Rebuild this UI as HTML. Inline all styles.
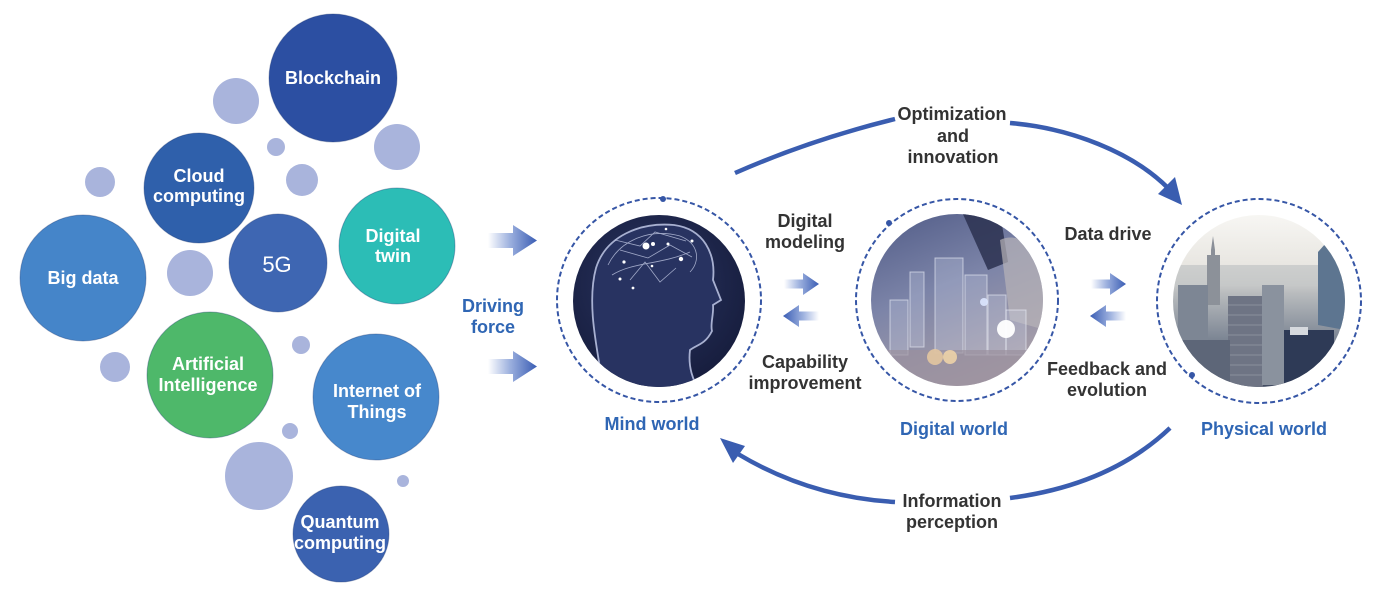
<!DOCTYPE html>
<html><head><meta charset="utf-8"><style>
html,body{margin:0;padding:0;background:#fff;}
svg{display:block;}
text{font-family:"Liberation Sans",Arial,sans-serif;}
</style></head><body>
<svg width="1386" height="598" viewBox="0 0 1386 598" xmlns="http://www.w3.org/2000/svg">
<defs>
  <linearGradient id="gR" x1="0" y1="0" x2="1" y2="0">
    <stop offset="0" stop-color="#ffffff"/>
    <stop offset="0.45" stop-color="#9cb0de"/>
    <stop offset="1" stop-color="#3a5db4"/>
  </linearGradient>
  <linearGradient id="gL" x1="1" y1="0" x2="0" y2="0">
    <stop offset="0" stop-color="#ffffff"/>
    <stop offset="0.45" stop-color="#9cb0de"/>
    <stop offset="1" stop-color="#3a5db4"/>
  </linearGradient>
  <radialGradient id="mindG" cx="0.45" cy="0.4" r="0.65">
    <stop offset="0" stop-color="#2a3562"/>
    <stop offset="1" stop-color="#151b3a"/>
  </radialGradient>
  <linearGradient id="digG" x1="0" y1="0" x2="0.4" y2="1">
    <stop offset="0" stop-color="#4f5a86"/>
    <stop offset="0.5" stop-color="#7c84a8"/>
    <stop offset="1" stop-color="#a79ea8"/>
  </linearGradient>
  <linearGradient id="phyG" x1="0" y1="0" x2="0" y2="1">
    <stop offset="0" stop-color="#f8f7f4"/>
    <stop offset="0.3" stop-color="#e8e6e1"/>
    <stop offset="0.45" stop-color="#b9bcbe"/>
    <stop offset="0.7" stop-color="#7e8795"/>
    <stop offset="1" stop-color="#3b455c"/>
  </linearGradient>
  <clipPath id="cMind"><circle cx="659" cy="301" r="86"/></clipPath>
  <clipPath id="cDig"><circle cx="957" cy="300" r="86"/></clipPath>
  <clipPath id="cPhy"><circle cx="1259" cy="301" r="86"/></clipPath>
</defs>

<!-- LEFT BUBBLES: light small circles -->
<g fill="#a9b4dc">
  <circle cx="236" cy="101" r="23"/>
  <circle cx="276" cy="147" r="9"/>
  <circle cx="397" cy="147" r="23"/>
  <circle cx="100" cy="182" r="15"/>
  <circle cx="302" cy="180" r="16"/>
  <circle cx="190" cy="273" r="23"/>
  <circle cx="115" cy="367" r="15"/>
  <circle cx="301" cy="345" r="9"/>
  <circle cx="290" cy="431" r="8"/>
  <circle cx="259" cy="476" r="34"/>
  <circle cx="403" cy="481" r="6"/>
</g>
<!-- main bubbles -->
<g stroke-width="1" stroke-opacity="0.35" stroke="#1e3670">
<circle cx="333" cy="78" r="64" fill="#2c4fa2"/>
<circle cx="199" cy="188" r="55" fill="#2f60ab"/>
<circle cx="397" cy="246" r="58" fill="#2cbdb6"/>
<circle cx="278" cy="263" r="49" fill="#3e66b2"/>
<circle cx="83" cy="278" r="63" fill="#4585c9"/>
<circle cx="210" cy="375" r="63" fill="#4eb86a"/>
<circle cx="376" cy="397" r="63" fill="#4788cc"/>
<circle cx="341" cy="534" r="48" fill="#3b62b0"/>
</g>

<g fill="#ffffff" font-weight="bold" font-size="18" text-anchor="middle">
  <text x="333" y="84">Blockchain</text>
  <text x="199" y="182">Cloud</text>
  <text x="199" y="202">computing</text>
  <text x="393" y="242">Digital</text>
  <text x="393" y="262">twin</text>
  <text x="83" y="284">Big data</text>
  <text x="208" y="370">Artificial</text>
  <text x="208" y="391">Intelligence</text>
  <text x="377" y="397">Internet of</text>
  <text x="377" y="418">Things</text>
  <text x="340" y="528">Quantum</text>
  <text x="340" y="549">computing</text>
</g>
<text x="277" y="272" fill="#ffffff" font-size="22" text-anchor="middle">5G</text>

<!-- Driving arrows -->
<polygon points="488,233 513,233 513,225 537,240.5 513,256 513,248 488,248" fill="url(#gR)"/>
<polygon points="488,359 513,359 513,351 537,366.5 513,382 513,374 488,374" fill="url(#gR)"/>
<g fill="#2f66b4" font-weight="bold" font-size="18" text-anchor="middle">
  <text x="493" y="312">Driving</text>
  <text x="493" y="333">force</text>
</g>

<!-- MIND WORLD image -->
<g clip-path="url(#cMind)">
  <rect x="570" y="212" width="180" height="180" fill="url(#mindG)"/>
  <path d="M604,392 C598,352 586,305 596,268 C606,236 640,222 674,225 C704,229 716,254 713,280 L721,300 L713,305 C714,314 710,324 712,331 C705,345 696,345 690,350 C688,366 692,380 702,395 Z" fill="#283361" stroke="#c0c8e6" stroke-width="1.8" stroke-opacity="0.85"/>
  <g stroke="#c9d0ea" stroke-width="0.8" fill="none" opacity="0.75">
    <path d="M608,265 C620,240 650,228 680,236 C700,244 700,262 690,272"/>
    <path d="M612,275 C632,262 660,265 690,252"/>
    <path d="M620,250 L648,258 L670,245 L692,257"/>
    <path d="M630,280 L645,262 L660,282 L676,268"/>
    <path d="M615,240 L640,246 L655,232 L686,241"/>
  </g>
  <g fill="#ffffff">
    <circle cx="646" cy="246" r="3.5"/>
    <circle cx="653" cy="244" r="2"/>
    <circle cx="624" cy="262" r="1.6"/>
    <circle cx="681" cy="259" r="2.2"/>
    <circle cx="692" cy="241" r="1.5"/>
    <circle cx="668" cy="244" r="1.5"/>
    <circle cx="620" cy="279" r="1.5"/>
    <circle cx="633" cy="288" r="1.4"/>
    <circle cx="652" cy="266" r="1.3"/>
    <circle cx="666" cy="229" r="1.3"/>
  </g>
</g>
<circle cx="659" cy="300" r="102" fill="none" stroke="#3656a6" stroke-width="2" stroke-dasharray="5 3"/>
<circle cx="663" cy="199" r="3" fill="#3656a6"/>

<!-- DIGITAL WORLD image -->
<g clip-path="url(#cDig)">
  <rect x="868" y="211" width="180" height="180" fill="url(#digG)"/>
  <polygon points="962,212 1000,212 1008,262 988,270" fill="#2c3150" opacity="0.85"/>
  <path d="M1000,240 C1020,230 1045,250 1045,290 L1045,330 L1010,320 Z" fill="#b8b4b8" opacity="0.7"/>
  <g fill="#d4daee" fill-opacity="0.25" stroke="#eef1fa" stroke-opacity="0.6" stroke-width="1">
    <rect x="910" y="272" width="14" height="75"/>
    <rect x="935" y="258" width="28" height="95"/>
    <rect x="965" y="275" width="22" height="80"/>
    <rect x="890" y="300" width="18" height="55"/>
    <rect x="988" y="295" width="18" height="60"/>
    <rect x="1006" y="310" width="20" height="45"/>
  </g>
  <rect x="868" y="350" width="180" height="40" fill="#9a909e" opacity="0.7"/>
  <circle cx="935" cy="357" r="8" fill="#e8c9a0" opacity="0.85"/>
  <circle cx="950" cy="357" r="7" fill="#f2d6a8" opacity="0.85"/>
  <circle cx="1006" cy="329" r="9" fill="#ffffff" opacity="0.95"/>
  <circle cx="984" cy="302" r="4" fill="#dde6ff" opacity="0.9"/>
</g>
<circle cx="957" cy="300" r="101" fill="none" stroke="#3656a6" stroke-width="2" stroke-dasharray="5 3"/>
<circle cx="889" cy="223" r="3" fill="#3656a6"/>

<!-- PHYSICAL WORLD image -->
<g clip-path="url(#cPhy)">
  <rect x="1170" y="212" width="180" height="180" fill="url(#phyG)"/>
  <rect x="1175" y="265" width="170" height="20" fill="#c6c8c8" opacity="0.8"/>
  <polygon points="1211,302 1211,250 1213,236 1215,250 1215,302" fill="#8a8f98"/>
  <rect x="1207" y="255" width="13" height="50" fill="#8c9199"/>
  <rect x="1178" y="285" width="30" height="60" fill="#7d8694"/>
  <rect x="1228" y="296" width="35" height="92" fill="#6e7484"/>
  <g stroke="#a4a9b4" stroke-width="0.8" opacity="0.7">
    <line x1="1228" y1="305" x2="1263" y2="305"/><line x1="1228" y1="315" x2="1263" y2="315"/>
    <line x1="1228" y1="325" x2="1263" y2="325"/><line x1="1228" y1="335" x2="1263" y2="335"/>
    <line x1="1228" y1="345" x2="1263" y2="345"/><line x1="1228" y1="355" x2="1263" y2="355"/>
    <line x1="1228" y1="365" x2="1263" y2="365"/><line x1="1228" y1="375" x2="1263" y2="375"/>
  </g>
  <rect x="1262" y="285" width="22" height="100" fill="#8a929e"/>
  <polygon points="1318,325 1318,252 1326,243 1345,262 1345,330" fill="#5d7590"/>
  <rect x="1284" y="330" width="50" height="60" fill="#2e3a56"/>
  <rect x="1290" y="327" width="18" height="8" fill="#d6d9de"/>
  <rect x="1175" y="340" width="55" height="50" fill="#5d6678"/>
</g>
<circle cx="1259" cy="301" r="102" fill="none" stroke="#3656a6" stroke-width="2" stroke-dasharray="5 3"/>
<circle cx="1192" cy="375" r="3" fill="#3656a6"/>

<!-- small arrows -->
<polygon points="784,279.5 803,279.5 803,273 819,284 803,295 803,288.5 784,288.5" fill="url(#gR)"/>
<polygon points="819,311.5 799,311.5 799,305 783,316 799,327 799,320.5 819,320.5" fill="url(#gL)"/>
<polygon points="1091,279.5 1110,279.5 1110,273 1126,284 1110,295 1110,288.5 1091,288.5" fill="url(#gR)"/>
<polygon points="1126,311.5 1106,311.5 1106,305 1090,316 1106,327 1106,320.5 1126,320.5" fill="url(#gL)"/>

<!-- big arcs -->
<g fill="none" stroke="#3a5db0" stroke-width="4.5" stroke-linecap="butt">
  <path d="M735,173 Q810,140 895,119"/>
  <path d="M1010,123 C1070,128 1132,152 1168,188"/>
  <path d="M1170,428 Q1110,485 1010,498"/>
  <path d="M895,502 Q810,497 738,454"/>
</g>
<polygon points="1182,205 1158,194 1175,177" fill="#3a5db0"/>
<polygon points="720,438 745,446 733,463" fill="#3a5db0"/>

<!-- dark labels -->
<g fill="#333333" font-weight="bold" font-size="18" text-anchor="middle">
  <text x="952" y="120">Optimization</text>
  <text x="953" y="142">and</text>
  <text x="953" y="163">innovation</text>
  <text x="805" y="227">Digital</text>
  <text x="805" y="248">modeling</text>
  <text x="805" y="368">Capability</text>
  <text x="805" y="389">improvement</text>
  <text x="1108" y="240">Data drive</text>
  <text x="1107" y="375">Feedback and</text>
  <text x="1107" y="396">evolution</text>
  <text x="952" y="507">Information</text>
  <text x="952" y="528">perception</text>
</g>

<!-- blue labels -->
<g fill="#2f66b4" font-weight="bold" font-size="18" text-anchor="middle">
  <text x="652" y="430">Mind world</text>
  <text x="954" y="435">Digital world</text>
  <text x="1264" y="435">Physical world</text>
</g>
</svg>
</body></html>
